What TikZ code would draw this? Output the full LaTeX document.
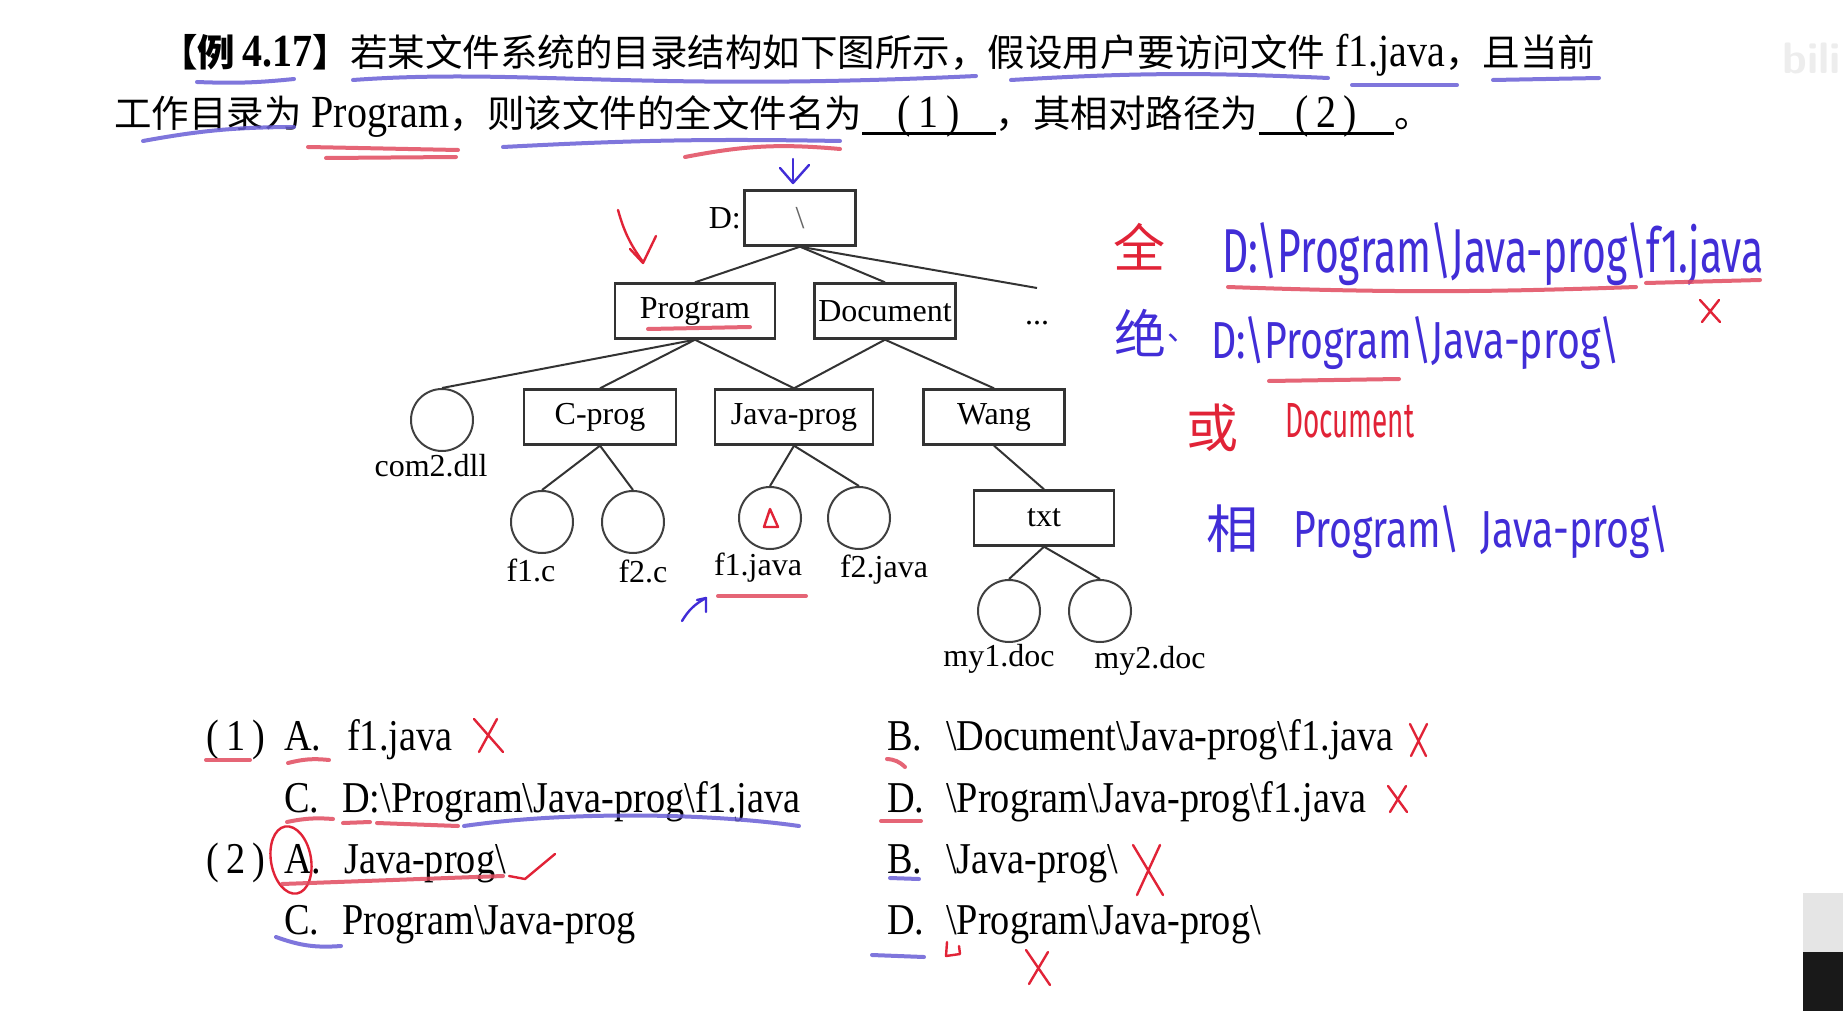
\documentclass[tikz,border=0pt]{standalone}
\usepackage{fontspec}
\usepackage{graphicx}
\setmainfont{Liberation Serif}
\newfontfamily\optfont{Liberation Serif}[FakeStretch=0.87]
\newfontfamily\cjk{Noto Sans CJK SC}
\newfontfamily\hand{Fira Sans}
\newcommand\bsl{\textbackslash}
\newcommand\cn[1]{{\cjk\fontsize{37.5}{40}\selectfont #1}}
\newcommand\treefont{\rmfamily\fontsize{32}{36}\selectfont}
\newcommand\hcn[1]{{\cjk\fontsize{52}{56}\selectfont #1}}
\definecolor{hblue}{RGB}{65,45,215}
\definecolor{hred}{RGB}{225,35,55}
\definecolor{ublue}{RGB}{105,95,215}
\definecolor{ured}{RGB}{225,75,95}
\tikzset{
  box/.style={draw=black!80, line width=2.4pt, minimum height=55pt, inner sep=0pt, font=\treefont},
  file/.style={draw=black!75, line width=2pt, circle, minimum size=62pt, inner sep=0pt},
  edge/.style={draw=black!80, line width=2pt},
  lbl/.style={anchor=base, inner sep=0pt, font=\treefont},
  opt/.style={anchor=base west, inner sep=0pt, font=\optfont\fontsize{44}{48}\selectfont},
  ttl/.style={anchor=base west, inner sep=0pt, font=\optfont\fontsize{46}{50}\selectfont},
  hb/.style={draw=hblue, line width=2.4pt, line cap=round, line join=round},
  hr/.style={draw=hred, line width=2.4pt, line cap=round, line join=round},
  ub/.style={draw=ublue, line width=4pt, line cap=round, opacity=0.85},
  ur/.style={draw=ured, line width=4pt, line cap=round, opacity=0.85},
  htext/.style={inner sep=0pt, anchor=base west},
}
\begin{document}
\begin{tikzpicture}[x=1pt,y=-1pt]
\useasboundingbox (0,0) rectangle (1843,1011);
\fill[white] (0,0) rectangle (1843,1011);

% ---------- title ----------
\node[ttl] (t1) at (160,67) {\cn{\bfseries【例}\,\textbf{4.17}\cn{\bfseries】}\cn{若某文件系统的目录结构如下图所示，假设用户要访问文件}\ f1.java\cn{，且当前}};
\node[ttl] (t2a) at (114,128) {\cn{工作目录为}\ Program\cn{，则该文件的全文件名为}};
\node[ttl, anchor=base west] (t2b) at (t2a.base east) {\makebox[133pt]{(\,1\,)}};
\node[ttl, anchor=base west] (t2c) at (t2b.base east) {\cn{，其相对路径为}};
\node[ttl, anchor=base west] (t2d) at (t2c.base east) {\makebox[135pt]{(\,2\,)}};
\node[ttl, anchor=base west] (t2e) at (t2d.base east) {\cn{。}};
\draw[line width=3pt] ([yshift=-6pt]t2b.base west) -- ([yshift=-6pt]t2b.base east);
\draw[line width=3pt] ([yshift=-6pt]t2d.base west) -- ([yshift=-6pt]t2d.base east);

% ---------- tree ----------
\node[box, minimum width=111pt, text=black!60] (root) at (800,218) {\bsl};
\node[anchor=east, inner sep=0pt, font=\treefont] (dlab) at (741,218) {D:};
\node[box, minimum width=160pt] (prog) at (695,311) {Program};
\node[box, minimum width=141pt] (doc) at (885,311) {Document};
\node[lbl] (dots) at (1037,324) {...};
\coordinate (dotsend) at (1037,288);
\node[box, minimum width=152pt] (cprog) at (600,417) {C-prog};
\node[box, minimum width=158pt] (jprog) at (794,417) {Java-prog};
\node[box, minimum width=141pt] (wang) at (994,417) {Wang};
\node[file] (com2) at (442,420) {};
\node[lbl] (com2l) at (431,476) {com2.dll};
\node[file] (f1c) at (542,522) {};
\node[file] (f2c) at (633,522) {};
\node[file] (f1j) at (770,518) {};
\node[file] (f2j) at (859,518) {};
\node[box, minimum width=140pt] (txt) at (1044,518) {txt};
\node[file] (my1) at (1009,611) {};
\node[file] (my2) at (1100,611) {};
\node[lbl] (f1cl) at (531,581) {f1.c};
\node[lbl] (f2cl) at (643,582) {f2.c};
\node[lbl] (f1jl) at (758,575) {f1.java};
\node[lbl] (f2jl) at (884,577) {f2.java};
\node[lbl] (my1l) at (999,666) {my1.doc};
\node[lbl] (my2l) at (1150,668) {my2.doc};

\draw[edge] (root.south) -- (prog.north);
\draw[edge] (root.south) -- (doc.north);
\draw[edge] (root.south) -- (dotsend);
\draw[edge] (prog.south) -- (com2.north);
\draw[edge] (prog.south) -- (cprog.north);
\draw[edge] (prog.south) -- (jprog.north);
\draw[edge] (doc.south) -- (jprog.north);
\draw[edge] (doc.south) -- (wang.north);
\draw[edge] (cprog.south) -- (f1c.north);
\draw[edge] (cprog.south) -- (f2c.north);
\draw[edge] (jprog.south) -- (f1j.north);
\draw[edge] (jprog.south) -- (f2j.north);
\draw[edge] (wang.south) -- (txt.north);
\draw[edge] (txt.south) -- (my1.north);
\draw[edge] (txt.south) -- (my2.north);

% ---------- options ----------
\node[opt] (o1n) at (206,750) {(\,1\,)};
\node[opt] (o1a) at (284,750) {A.};
\node[opt] (o1at) at (347,750) {f1.java};
\node[opt] (o1b) at (887,750) {B.};
\node[opt] (o1bt) at (946,750) {\bsl Document\bsl Java-prog\bsl f1.java};
\node[opt] (o1c) at (284,812) {C.};
\node[opt] (o1ct) at (342,812) {D:\bsl Program\bsl Java-prog\bsl f1.java};
\node[opt] (o1d) at (887,812) {D.};
\node[opt] (o1dt) at (946,812) {\bsl Program\bsl Java-prog\bsl f1.java};
\node[opt] (o2n) at (206,873) {(\,2\,)};
\node[opt] (o2a) at (284,873) {A.};
\node[opt] (o2at) at (344,873) {Java-prog\bsl};
\node[opt] (o2b) at (887,873) {B.};
\node[opt] (o2bt) at (946,873) {\bsl Java-prog\bsl};
\node[opt] (o2c) at (284,934) {C.};
\node[opt] (o2ct) at (342,934) {Program\bsl Java-prog};
\node[opt] (o2d) at (887,934) {D.};
\node[opt] (o2dt) at (946,934) {\bsl Program\bsl Java-prog\bsl};

% ---------- handwritten notes (right) ----------
\node[inner sep=0pt, text=hred] (hq) at (1139,247) {\hcn{全}};
\node[htext, text=hblue] (h1) at (1222,272) {\resizebox{541pt}{50pt}{\hand D:\bsl Program\bsl Java-prog\bsl f1.java}};
\node[inner sep=0pt, text=hblue] (hj) at (1140,333) {\hcn{绝}};
\node[inner sep=0pt, text=hblue, font=\cjk\fontsize{30}{30}\selectfont] (hjc) at (1182,338) {、};
\node[htext, text=hblue] (h2) at (1211,358) {\resizebox{409pt}{42pt}{\hand D:\bsl Program\bsl Java-prog\bsl}};
\node[inner sep=0pt, text=hred] (hh) at (1212,428) {\hcn{或}};
\node[htext, text=hred] (h3) at (1285,437) {\resizebox{129pt}{34pt}{\hand Document}};
\node[inner sep=0pt, text=hblue] (hx) at (1232,529) {\hcn{相}};
\node[htext, text=hblue] (h4) at (1293,547) {\resizebox{376pt}{42pt}{\hand Program\bsl\ \ Java-prog\bsl}};
\draw[ur] (1228,287) to[bend right=2] (1636,287);
\draw[ur] (1646,283) -- (1760,280);
\draw[hr] (1700,300) -- (1720,322) (1719,300) -- (1702,322);
\draw[ur] (1269,381) -- (1399,379);

% ---------- title marks ----------
\draw[ub] (197,82) to[bend right=4] (294,79);
\draw[ub] (353,80) .. controls (520,68) and (640,92) .. (976,76);
\draw[ub] (1011,80) to[bend left=3] (1328,78);
\draw[ub] (1352,85) -- (1457,85);
\draw[ub] (1493,80) -- (1599,78);
\draw[ub] (143,141) to[bend left=5] (294,127);
\draw[ur] (308,147) -- (458,150);
\draw[ur] (326,158) -- (456,157);
\draw[ub] (503,147) to[bend left=2] (840,141);
\draw[ur] (685,157) to[bend left=8] (840,149);
\draw[hb] (793,159) -- (793,183);
\draw[hb] (780,168) -- (793,183) -- (809,165);

% ---------- tree marks ----------
\draw[hr] (618,210) to[bend right=10] (643,262);
\draw[hr] (630,249) -- (643,263) -- (656,236);
\draw[ur] (648,329) -- (750,327);
\draw[hr] (764,527) -- (778,527) -- (770,509) -- cycle;
\draw[ur] (718,596) -- (806,596);
\draw[hb] (682,621) to[bend left=15] (706,598);
\draw[hb] (697,600) -- (706,598) -- (706,612);

% ---------- option marks ----------
\draw[ur] (206,760) -- (250,760);
\draw[ur] (288,763) to[bend left=10] (329,760);
\draw[hr] (474,719) -- (503,752) (497,719) -- (479,752);
\draw[ur] (287,822) to[bend left=8] (333,819);
\draw[ur] (343,823) -- (370,822);
\draw[ur] (377,823) -- (458,826);
\draw[ub] (464,826) .. controls (560,812) and (700,812) .. (799,826);
\draw[hr, rotate around={10:(291,860)}] (291,860) ellipse (20pt and 34pt);
\draw[ur] (282,884) -- (503,876);
\draw[hr] (509,876) -- (525,879) -- (555,854);
\draw[ub] (276,937) to[bend right=12] (341,946);
\draw[ur] (887,759) to[bend left=20] (905,767);
\draw[hr] (1410,724) -- (1426,756) (1427,724) -- (1411,756);
\draw[ur] (881,821) -- (921,821);
\draw[hr] (1388,786) -- (1407,812) (1406,786) -- (1390,812);
\draw[ub] (890,878) -- (919,879);
\draw[hr] (1133,845) -- (1163,895) (1160,845) -- (1137,895);
\draw[ub] (872,955) -- (924,957);
\draw[hr] (947,942) -- (946,956) -- (960,954) -- (959,946);
\draw[hr] (1026,950) -- (1050,985) (1048,952) -- (1029,984);

% ---------- screen artefacts ----------
\node[anchor=east, inner sep=0pt, text=black!7, font=\sffamily\bfseries\fontsize{44}{44}\selectfont] (wm) at (1841,58) {bili};
\fill[black!10] (1803,893) rectangle (1843,952);
\fill[black!90] (1803,952) rectangle (1843,1011);
\end{tikzpicture}
\end{document}
